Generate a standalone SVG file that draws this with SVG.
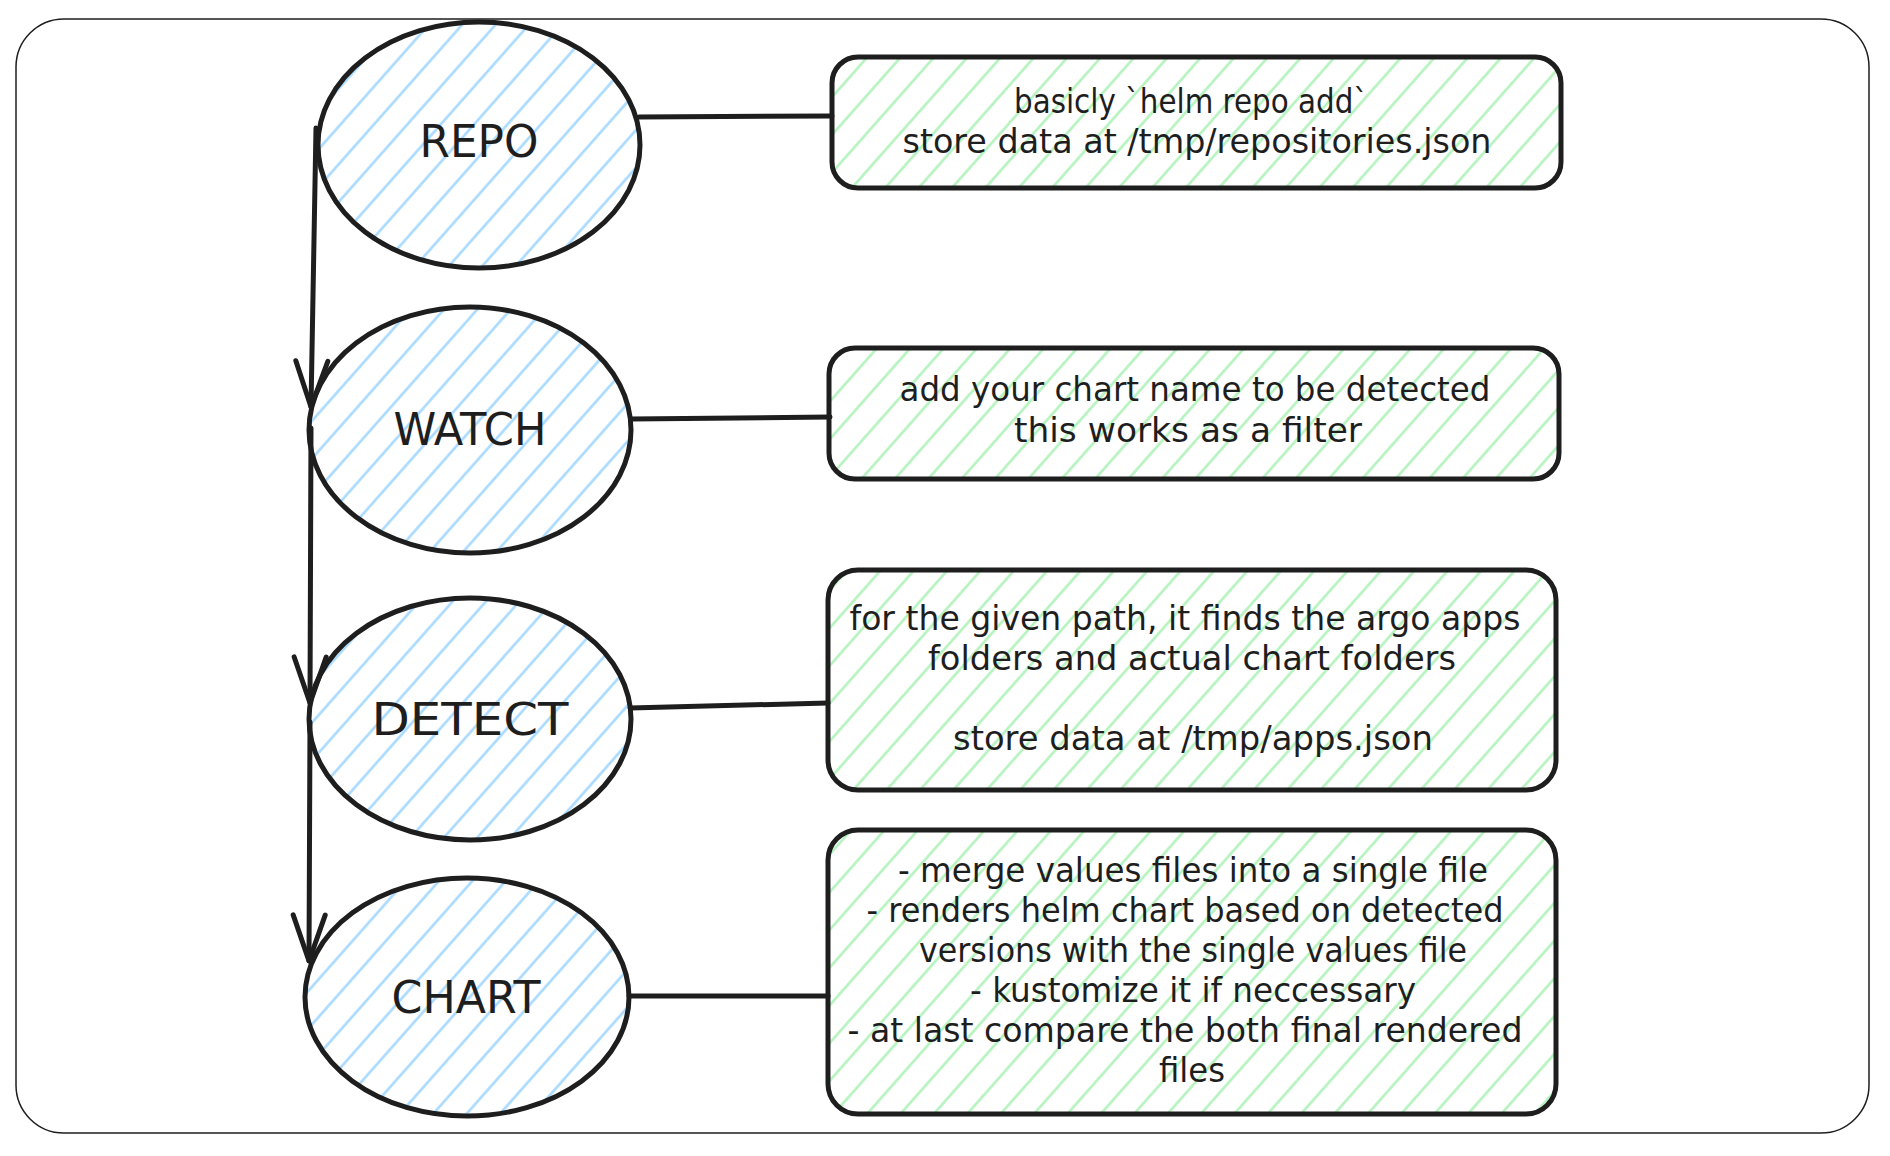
<svg xmlns="http://www.w3.org/2000/svg" width="1890" height="1156" viewBox="0 0 1890 1156">
<style>
  .shape{stroke:#1e1e1e;stroke-width:5}
  .blue{fill:url(#blueHatch)}
  .green{fill:url(#greenHatch)}
  .lbl{font-family:"DejaVu Sans","Liberation Sans",sans-serif;font-size:44px;fill:#1e1e1e;text-anchor:middle}
  .txt{font-family:"DejaVu Sans","Liberation Sans",sans-serif;font-size:34px;fill:#1e1e1e;text-anchor:middle}
  .conn{stroke:#1e1e1e;stroke-width:5;fill:none;stroke-linecap:round}
</style>
<defs>
  <pattern id="blueHatch" patternUnits="userSpaceOnUse" width="25" height="25" patternTransform="rotate(41.5)">
    <line x1="12.5" y1="0" x2="12.5" y2="25" stroke="#a5d8ff" stroke-width="2.5"/>
  </pattern>
  <pattern id="greenHatch" patternUnits="userSpaceOnUse" width="25" height="25" patternTransform="rotate(41.5)">
    <line x1="12.5" y1="0" x2="12.5" y2="25" stroke="#b2f2bb" stroke-width="2.5"/>
  </pattern>
  <marker id="arrow" markerUnits="userSpaceOnUse" viewBox="-50 -20 55 40" refX="0" refY="0" markerWidth="55" markerHeight="40" orient="auto" overflow="visible">
    <path d="M -46 -16 L 0 0 L -46 16" fill="none" stroke="#1e1e1e" stroke-width="5" stroke-linecap="round" stroke-linejoin="round"/>
  </marker>
</defs>
<rect x="0" y="0" width="1890" height="1156" fill="#ffffff"/>
<rect x="16" y="19" width="1853" height="1114" rx="48" ry="48" fill="none" stroke="#1e1e1e" stroke-width="1.5"/>

<g id="node-repo">
  <ellipse class="shape blue" cx="479" cy="145" rx="161" ry="123"/>
  <text class="lbl" x="479" y="157" textLength="119" lengthAdjust="spacingAndGlyphs">REPO</text>
</g>
<g id="node-watch">
  <ellipse class="shape blue" cx="470" cy="430" rx="161" ry="123"/>
  <text class="lbl" x="470" y="445" textLength="153" lengthAdjust="spacingAndGlyphs">WATCH</text>
</g>
<g id="node-detect">
  <ellipse class="shape blue" cx="470" cy="719" rx="161" ry="121"/>
  <text class="lbl" x="470" y="735" textLength="197" lengthAdjust="spacingAndGlyphs">DETECT</text>
</g>
<g id="node-chart">
  <ellipse class="shape blue" cx="467" cy="997" rx="162" ry="119"/>
  <text class="lbl" x="466" y="1013" textLength="149" lengthAdjust="spacingAndGlyphs">CHART</text>
</g>

<g id="note-repo">
  <rect class="shape green" x="832" y="57" width="729" height="131" rx="26" ry="26"/>
  <text class="txt" x="1191" y="113" textLength="354" lengthAdjust="spacingAndGlyphs">basicly `helm repo add`</text>
  <text class="txt" x="1197" y="153" textLength="589" lengthAdjust="spacingAndGlyphs">store data at /tmp/repositories.json</text>
</g>
<g id="note-watch">
  <rect class="shape green" x="829" y="348" width="730" height="131" rx="26" ry="26"/>
  <text class="txt" x="1195" y="401" textLength="591" lengthAdjust="spacingAndGlyphs">add your chart name to be detected</text>
  <text class="txt" x="1188" y="442" textLength="348" lengthAdjust="spacingAndGlyphs">this works as a filter</text>
</g>
<g id="note-detect">
  <rect class="shape green" x="828" y="570" width="728" height="220" rx="30" ry="30"/>
  <text class="txt" x="1185" y="630" textLength="671" lengthAdjust="spacingAndGlyphs">for the given path, it finds the argo apps</text>
  <text class="txt" x="1192" y="670" textLength="528" lengthAdjust="spacingAndGlyphs">folders and actual chart folders</text>
  <text class="txt" x="1193" y="750" textLength="480" lengthAdjust="spacingAndGlyphs">store data at /tmp/apps.json</text>
</g>
<g id="note-chart">
  <rect class="shape green" x="828" y="830" width="728" height="284" rx="30" ry="30"/>
  <text class="txt" x="1193" y="882" textLength="590" lengthAdjust="spacingAndGlyphs">- merge values files into a single file</text>
  <text class="txt" x="1185" y="922" textLength="637" lengthAdjust="spacingAndGlyphs">- renders helm chart based on detected</text>
  <text class="txt" x="1193" y="962" textLength="548" lengthAdjust="spacingAndGlyphs">versions with the single values file</text>
  <text class="txt" x="1193" y="1002" textLength="446" lengthAdjust="spacingAndGlyphs">- kustomize it if neccessary</text>
  <text class="txt" x="1185" y="1042" textLength="675" lengthAdjust="spacingAndGlyphs">- at last compare the both final rendered</text>
  <text class="txt" x="1192" y="1082" textLength="66" lengthAdjust="spacingAndGlyphs">files</text>
</g>

<g id="connectors">
  <path class="conn" d="M 639 117 L 832 116"/>
  <path class="conn" d="M 631 419 L 830 417"/>
  <path class="conn" d="M 630 708 L 828 703"/>
  <path class="conn" d="M 629 996 L 828 996"/>
  <path class="conn" d="M 316 128 L 311 407" marker-end="url(#arrow)"/>
  <path class="conn" d="M 311 428 L 310 703" marker-end="url(#arrow)"/>
  <path class="conn" d="M 310 722 L 309 961" marker-end="url(#arrow)"/>
</g>
</svg>
